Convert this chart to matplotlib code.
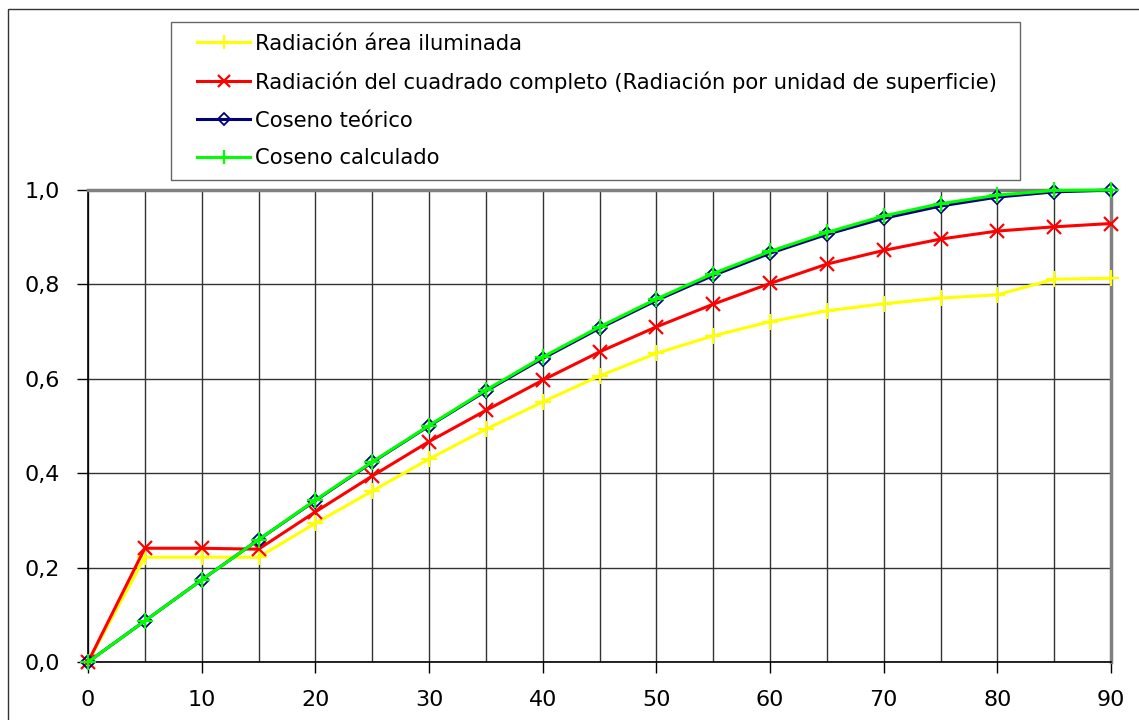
import matplotlib
matplotlib.use("Agg")
import matplotlib.pyplot as plt
from matplotlib.ticker import MultipleLocator, FuncFormatter
from matplotlib.patches import Rectangle
from matplotlib.legend_handler import HandlerLine2D

angles = [0, 5, 10, 15, 20, 25, 30, 35, 40, 45, 50, 55, 60, 65, 70, 75, 80, 85, 90]
rad_area = [0, 0.222, 0.222, 0.222, 0.294, 0.362, 0.430, 0.493, 0.551, 0.606,
            0.654, 0.691, 0.721, 0.744, 0.759, 0.771, 0.778, 0.811, 0.813]
rad_cuadrado = [0, 0.241, 0.241, 0.239, 0.318, 0.394, 0.467, 0.533, 0.597, 0.657,
                0.710, 0.758, 0.802, 0.843, 0.872, 0.896, 0.913, 0.922, 0.929]
cos_teorico = [0, 0.087, 0.174, 0.259, 0.342, 0.423, 0.500, 0.574, 0.643, 0.707,
               0.766, 0.819, 0.866, 0.906, 0.940, 0.966, 0.985, 0.996, 1.000]
cos_calculado = [0, 0.087, 0.174, 0.259, 0.343, 0.424, 0.501, 0.576, 0.646, 0.710,
                 0.769, 0.823, 0.870, 0.910, 0.945, 0.971, 0.989, 0.999, 1.000]
labels = ["Radiación área iluminada",
          "Radiación del cuadrado completo (Radiación por unidad de superficie)",
          "Coseno teórico",
          "Coseno calculado"]

W, H = 1139, 720
fig = plt.figure(figsize=(W / 100, H / 100), dpi=100)
fig.patch.set_facecolor("white")
ax = fig.add_axes([88 / W, 1 - 662 / H, (1111 - 88) / W, (662 - 190) / H])

lw = 2.2
l1, = ax.plot(angles, rad_area, color="#FFFF00", lw=lw, marker="+", ms=12, mew=1.6, label=labels[0], zorder=3, clip_on=False)
l2, = ax.plot(angles, rad_cuadrado, color="#FF0000", lw=lw, marker="x", ms=10, mew=1.6, label=labels[1], zorder=4, clip_on=False)
l3, = ax.plot(angles, cos_teorico, color="#000080", lw=lw, marker="D", ms=7.5, mew=1.3, mfc="none", mec="#000080", label=labels[2], zorder=5, clip_on=False)
l4, = ax.plot(angles, cos_calculado, color="#00FF00", lw=lw, marker="+", ms=12, mew=1.6, label=labels[3], zorder=6, clip_on=False)

ax.set_xlim(0, 90)
ax.set_ylim(0, 1.0)
ax.xaxis.set_major_locator(MultipleLocator(10))
ax.xaxis.set_minor_locator(MultipleLocator(5))
ax.yaxis.set_major_locator(MultipleLocator(0.2))
ax.yaxis.set_major_formatter(FuncFormatter(lambda v, p: f"{v:.1f}".replace(".", ",")))
ax.grid(True, which="both", axis="x", color="#333333", lw=1.0)
ax.grid(True, which="major", axis="y", color="#333333", lw=1.0)
ax.set_axisbelow(True)
ax.tick_params(axis="both", which="major", direction="out", length=8, width=1, labelsize=16, color="black")
ax.tick_params(axis="x", which="minor", length=0)
ax.tick_params(axis="x", pad=12)
ax.tick_params(axis="y", pad=12)
for s in ["left", "bottom"]:
    ax.spines[s].set_color("black")
    ax.spines[s].set_linewidth(1.2)
for s in ["top", "right"]:
    ax.spines[s].set_color("#808080")
    ax.spines[s].set_linewidth(2.5)

fs = 15.2
hm = {l: HandlerLine2D(xpad=0.69) for l in (l1, l2, l3, l4)}
leg = fig.legend(handles=[l1, l2, l3, l4], labels=labels, handler_map=hm,
                 loc="upper left",
                 bbox_to_anchor=(171 / W, 1 - 176 / H, (1020 - 171) / W, (176 - 22) / H),
                 mode="expand", fontsize=fs, frameon=True, fancybox=False,
                 edgecolor="#404040", handlelength=3.2, handletextpad=0.24,
                 labelspacing=0.84, borderpad=0.55, borderaxespad=0, markerscale=0.8)
leg.get_frame().set_linewidth(1.0)

fig.patches.append(Rectangle((8 / W, -0.01), 1.02, 1 - 9 / H + 0.01, transform=fig.transFigure,
                             fill=False, edgecolor="#333333", lw=1.0))

fig.savefig("out.png", dpi=100, facecolor="white")
